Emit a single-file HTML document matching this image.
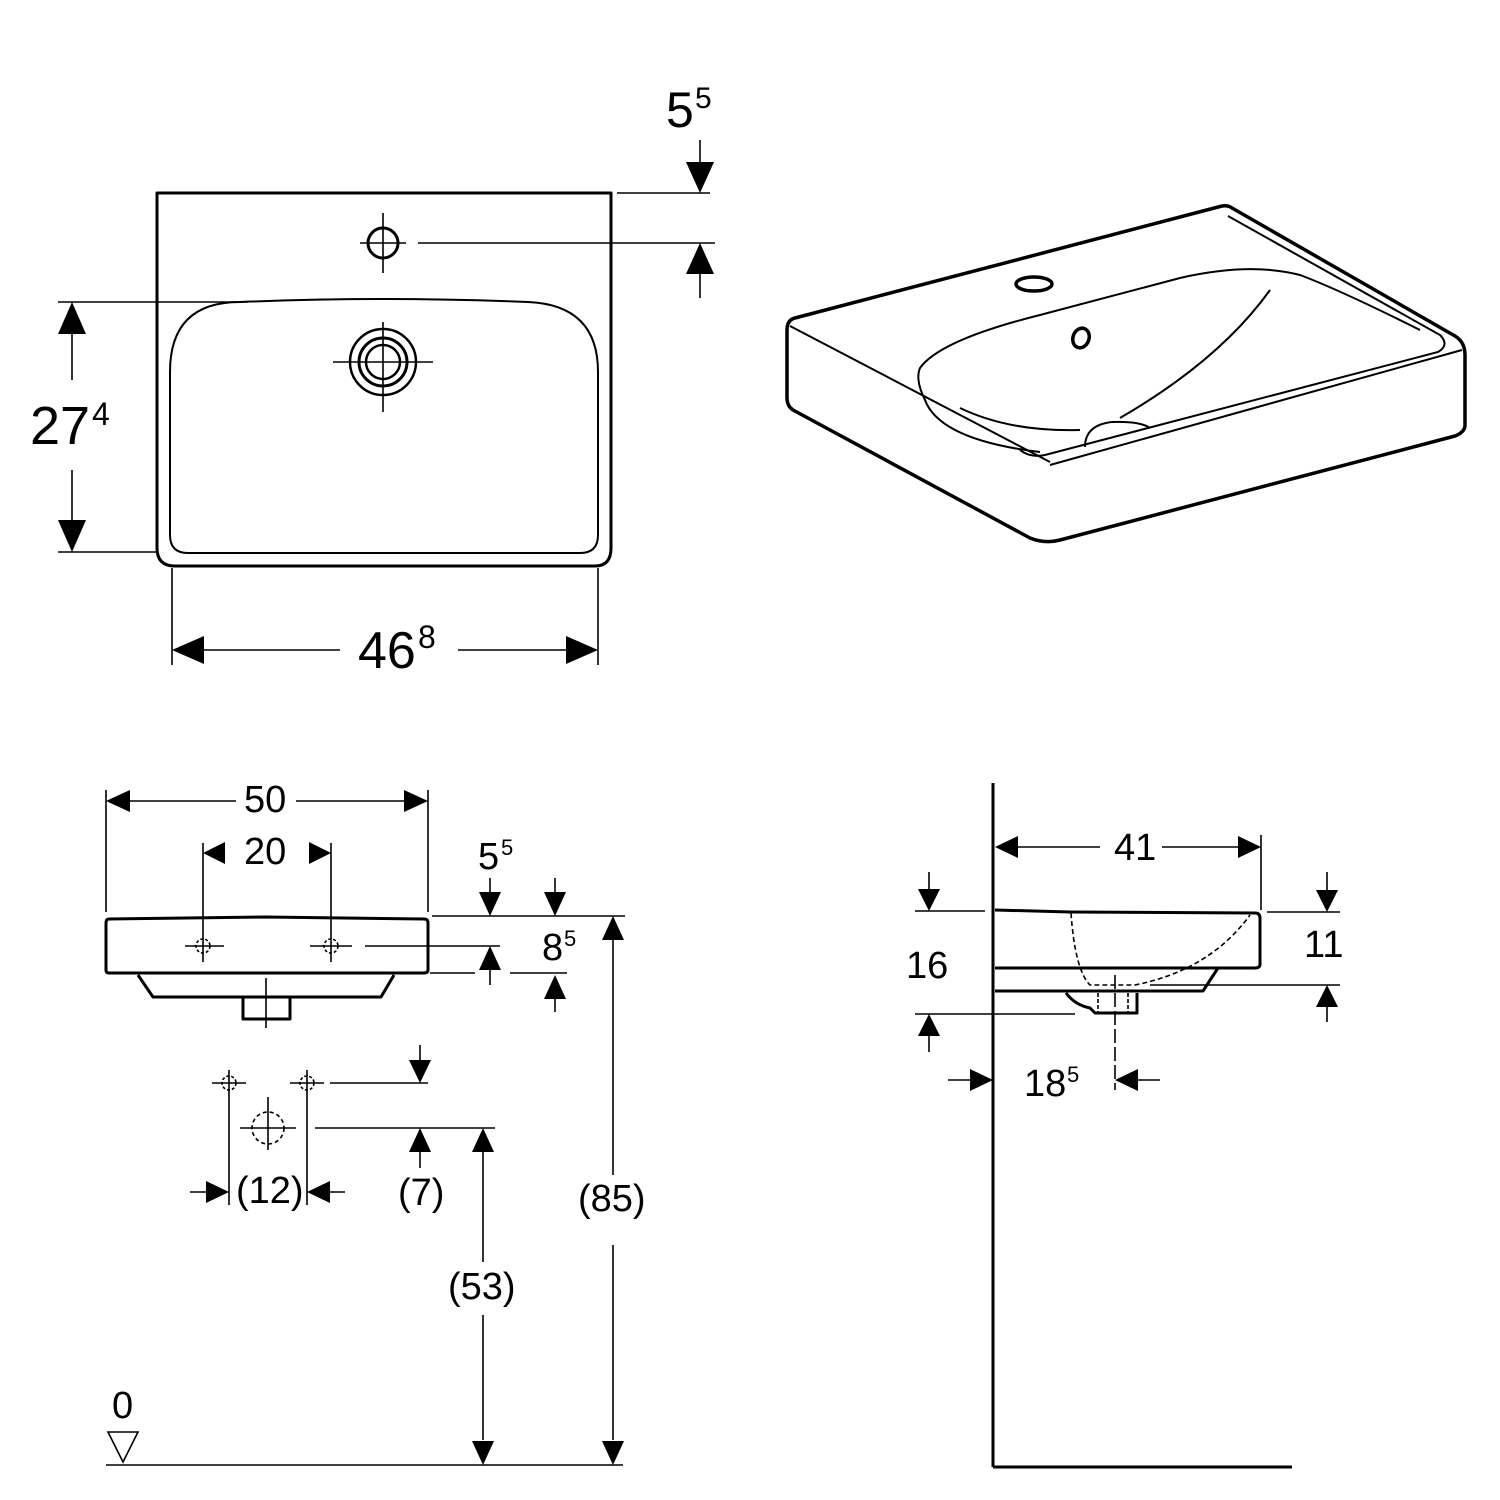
<!DOCTYPE html>
<html><head><meta charset="utf-8"><style>html,body{margin:0;padding:0;background:#fff}svg{display:block}text{font-family:"Liberation Sans",sans-serif;fill:#000}</style></head><body>
<svg width="1500" height="1500" viewBox="0 0 1500 1500" xmlns="http://www.w3.org/2000/svg">
<g fill="none" stroke="#000" stroke-width="3" stroke-linejoin="round" stroke-linecap="round">
<!-- Plan view -->
<path d="M157,548 L157,193 L611,193 L611,548 Q611,566 595,566 L175,566 Q157,566 157,548"/>
<path d="M240,302 Q383,296 528,302 Q598,305 598,372 L598,535 Q598,553 580,553 L188,553 Q170,553 170,535 L170,372 Q170,302 240,302 Z" stroke-width="2"/>
<circle cx="383" cy="243" r="15"/>
<circle cx="383" cy="362" r="33" stroke-width="2.5"/>
<circle cx="383" cy="362" r="24" stroke-width="3"/>
<circle cx="383" cy="362" r="17" stroke-width="2.5"/>
</g>
<g stroke="#000" stroke-width="1.6" fill="none">
<line x1="360" y1="243" x2="406" y2="243"/><line x1="383" y1="213" x2="383" y2="273"/>
<line x1="333" y1="362" x2="433" y2="362"/><line x1="383" y1="322" x2="383" y2="412"/>
<line x1="617" y1="193" x2="710" y2="193"/><line x1="418" y1="243" x2="715" y2="243"/>
<line x1="700" y1="140" x2="700" y2="170"/><line x1="700" y1="270" x2="700" y2="298"/>
<line x1="58" y1="302" x2="248" y2="302"/><line x1="58" y1="552" x2="157" y2="552"/>
<line x1="72" y1="330" x2="72" y2="380"/><line x1="72" y1="470" x2="72" y2="525"/>
<line x1="172" y1="568" x2="172" y2="665"/><line x1="598" y1="568" x2="598" y2="665"/>
<line x1="200" y1="650" x2="340" y2="650"/><line x1="458" y1="650" x2="570" y2="650"/>
</g>
<g fill="#000">
<polygon points="686,162 714,162 700,193"/><polygon points="686,274 714,274 700,243"/>
<polygon points="58,334 86,334 72,302"/><polygon points="58,520 86,520 72,552"/>
<polygon points="204,636 204,664 172,650"/><polygon points="566,636 566,664 598,650"/>
</g>
<text x="666" y="127" font-size="50">5</text><text x="695" y="108" font-size="30">5</text>
<text x="30" y="444" font-size="54">27</text><text x="92" y="425" font-size="32">4</text>
<text x="358" y="668" font-size="52">46</text><text x="418" y="648" font-size="32">8</text>

<!-- Isometric -->
<g fill="none" stroke="#000" stroke-width="3.5" stroke-linejoin="round">
<path d="M795,318 L1222,206 Q1228,205 1232,208 L1455,336 Q1465,342 1465,355 L1465,425 Q1465,432 1455,436 L1060,540 Q1045,544 1030,538 L793,410 Q787,406 787,398 L787,330 Q787,320 795,318 Z"/>
<ellipse cx="1034" cy="284" rx="18" ry="7"/>
<ellipse cx="1081" cy="338" rx="8" ry="10" transform="rotate(20 1081 338)"/>
</g>
<g fill="none" stroke="#000" stroke-width="2">
<path d="M790,326 L1050,462"/>
<path d="M1050,465 L1462,350"/>
<path d="M1228,216 L1440,335 Q1450,345 1438,352 L1045,455 Q1030,458 1020,450"/>
<path d="M1040,452 Q940,440 925,400 Q915,380 920,368 Q940,340 1040,315 L1180,278 Q1250,262 1300,275 Q1340,290 1420,330"/>
<path d="M960,408 Q1010,432 1080,430"/>
<path d="M1120,418 Q1220,360 1270,290"/>
<path d="M1085,447 Q1085,425 1112,422 Q1140,421 1150,428"/>
</g>

<!-- Front view -->
<g fill="none" stroke="#000" stroke-width="3" stroke-linejoin="round">
<path d="M109,919 L266,917 L424,919 Q428,919 428,923 L428,970 Q428,973 424,973 L109,973 Q106,973 106,970 L106,923 Q106,919 109,919 Z"/>
<path d="M138,975 L153,997 L381,997 L394,975"/>
<path d="M243,997 L243,1019 L290,1019 L290,997"/>
</g>
<g stroke="#000" stroke-width="1.6" fill="none">
<line x1="266" y1="978" x2="266" y2="1028"/>
<line x1="106" y1="790" x2="106" y2="912"/><line x1="428" y1="790" x2="428" y2="912"/>
<line x1="130" y1="801" x2="236" y2="801"/><line x1="296" y1="801" x2="404" y2="801"/>
<line x1="203" y1="843" x2="203" y2="962"/><line x1="331" y1="843" x2="331" y2="962"/>
<line x1="185" y1="946" x2="224" y2="946"/><line x1="310" y1="946" x2="352" y2="946"/>
<circle cx="203" cy="946" r="7" stroke-dasharray="3,2"/><circle cx="331" cy="946" r="7" stroke-dasharray="3,2"/>
<line x1="432" y1="916" x2="625" y2="916"/><line x1="365" y1="946" x2="500" y2="946"/>
<line x1="430" y1="973" x2="475" y2="973"/><line x1="510" y1="973" x2="567" y2="973"/>
<line x1="490" y1="878" x2="490" y2="895"/><line x1="490" y1="965" x2="490" y2="985"/>
<line x1="555" y1="878" x2="555" y2="895"/><line x1="555" y1="995" x2="555" y2="1012"/>
<line x1="613" y1="940" x2="613" y2="1175"/><line x1="613" y1="1245" x2="613" y2="1440"/>
<line x1="106" y1="1465" x2="623" y2="1465"/>
<line x1="483" y1="1150" x2="483" y2="1262"/><line x1="483" y1="1315" x2="483" y2="1440"/>
<line x1="212" y1="1083" x2="246" y2="1083"/><line x1="229" y1="1070" x2="229" y2="1205"/>
<line x1="290" y1="1083" x2="324" y2="1083"/><line x1="307" y1="1070" x2="307" y2="1205"/>
<circle cx="229" cy="1083" r="7" stroke-dasharray="3,2"/><circle cx="307" cy="1083" r="7" stroke-dasharray="3,2"/>
<circle cx="268" cy="1128" r="16" stroke-dasharray="4,3"/>
<line x1="240" y1="1128" x2="296" y2="1128"/><line x1="268" y1="1097" x2="268" y2="1150"/>
<line x1="330" y1="1083" x2="428" y2="1083"/><line x1="420" y1="1045" x2="420" y2="1065"/>
<line x1="315" y1="1128" x2="495" y2="1128"/><line x1="420" y1="1148" x2="420" y2="1168"/>
<line x1="190" y1="1192" x2="210" y2="1192"/><line x1="326" y1="1192" x2="345" y2="1192"/>
</g>
<polygon points="108,1432 138,1432 123,1462" fill="none" stroke="#000" stroke-width="1.6"/>
<g fill="#000">
<polygon points="130,790 130,812 106,801"/><polygon points="404,790 404,812 428,801"/>
<polygon points="225,842 225,864 203,853"/><polygon points="309,842 309,864 331,853"/>
<polygon points="479,892 501,892 490,916"/><polygon points="479,970 501,970 490,946"/>
<polygon points="544,892 566,892 555,916"/><polygon points="544,999 566,999 555,975"/>
<polygon points="602,940 624,940 613,916"/><polygon points="602,1441 624,1441 613,1465"/>
<polygon points="472,1152 494,1152 483,1128"/><polygon points="472,1441 494,1441 483,1465"/>
<polygon points="409,1060 431,1060 420,1083"/><polygon points="409,1152 431,1152 420,1128"/>
<polygon points="206,1181 206,1203 229,1192"/><polygon points="330,1181 330,1203 307,1192"/>
</g>
<g font-size="38">
<text x="244" y="812">50</text>
<text x="244" y="864">20</text>
<text x="478" y="869">5</text><text x="501" y="855" font-size="22">5</text>
<text x="542" y="960">8</text><text x="564" y="946" font-size="22">5</text>
<text x="578" y="1211">(85)</text>
<text x="448" y="1299">(53)</text>
<text x="236" y="1203">(12)</text>
<text x="398" y="1205">(7)</text>
<text x="112" y="1418">0</text>
</g>

<!-- Side view -->
<g fill="none" stroke="#000" stroke-width="3" stroke-linejoin="round">
<line x1="993" y1="783" x2="993" y2="1467"/><line x1="993" y1="1467" x2="1292" y2="1467"/>
<path d="M995,910 L1070,912 L1255,913 Q1260,913 1260,918 L1260,964 Q1260,968 1255,968 L995,968"/>
<path d="M995,991 L1203,991 L1218,968"/>
<path d="M1066,993 Q1075,1005 1090,1008 L1095,1013 L1137,1013 L1137,993"/>
</g>
<g stroke="#000" stroke-width="1.6" fill="none">
<path d="M1071,913 Q1075,970 1090,985 L1135,985 Q1210,970 1250,915" stroke-dasharray="5,3"/>
<line x1="1098" y1="993" x2="1098" y2="1013" stroke-dasharray="4,2"/><line x1="1128" y1="993" x2="1128" y2="1013" stroke-dasharray="4,2"/>
<line x1="1115" y1="975" x2="1115" y2="1090" stroke-dasharray="14,4"/>
<line x1="1261" y1="835" x2="1261" y2="910"/>
<line x1="1018" y1="847" x2="1100" y2="847"/><line x1="1162" y1="847" x2="1238" y2="847"/>
<line x1="915" y1="911" x2="985" y2="911"/><line x1="929" y1="872" x2="929" y2="890"/>
<line x1="915" y1="1014" x2="1075" y2="1014"/><line x1="929" y1="1035" x2="929" y2="1052"/>
<line x1="1267" y1="912" x2="1340" y2="912"/><line x1="1327" y1="872" x2="1327" y2="890"/>
<line x1="1150" y1="985" x2="1340" y2="985"/><line x1="1327" y1="1005" x2="1327" y2="1022"/>
<line x1="948" y1="1080" x2="970" y2="1080"/><line x1="1138" y1="1080" x2="1160" y2="1080"/>
</g>
<g fill="#000">
<polygon points="1018,836 1018,858 995,847"/><polygon points="1238,836 1238,858 1261,847"/>
<polygon points="918,889 940,889 929,911"/><polygon points="918,1036 940,1036 929,1014"/>
<polygon points="1316,890 1338,890 1327,912"/><polygon points="1316,1007 1338,1007 1327,985"/>
<polygon points="970,1069 970,1091 993,1080"/><polygon points="1138,1069 1138,1091 1115,1080"/>
</g>
<g font-size="38">
<text x="1114" y="860">41</text>
<text x="906" y="978">16</text>
<text x="1304" y="957">11</text>
<text x="1024" y="1096">18</text><text x="1067" y="1082" font-size="22">5</text>
</g>
</svg>
</body></html>
